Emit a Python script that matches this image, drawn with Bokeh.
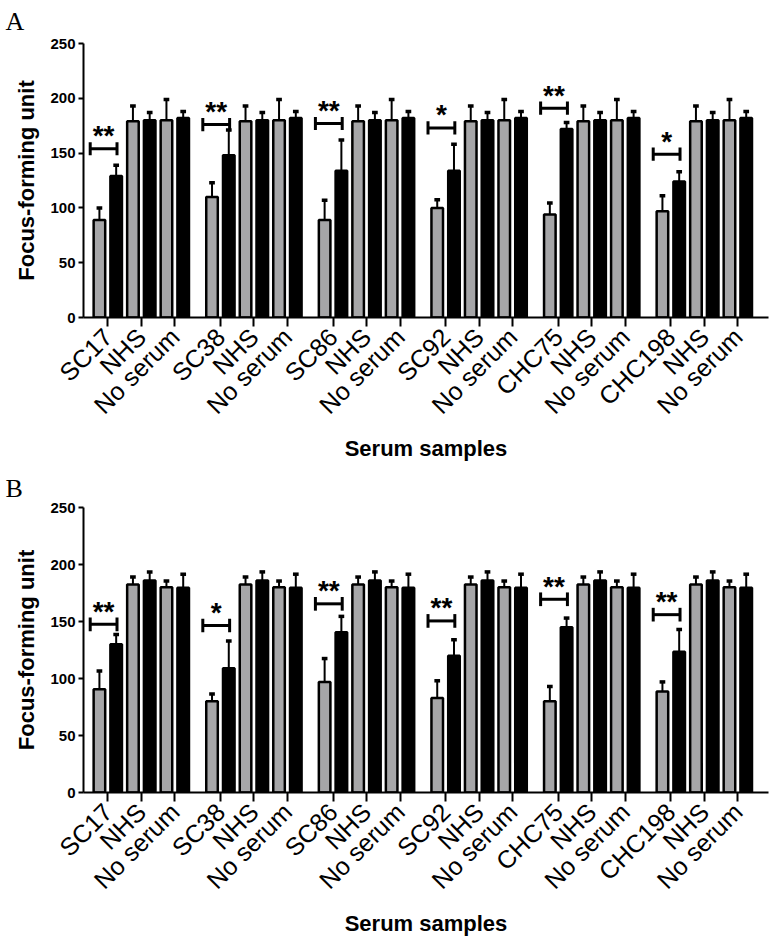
from math import pi
from bokeh.plotting import figure
from bokeh.models import Range1d, FixedTicker
from bokeh.layouts import column
from bokeh.embed import file_html
from bokeh.resources import INLINE
from bokeh.core.properties import value

# ---------------- data ----------------
groups = ["SC17", "SC38", "SC86", "SC92", "CHC75", "CHC198"]
control_labels = ["NHS", "No serum"]
y_ticks = [0, 50, 100, 150, 200, 250]

# Panel A
a_sample_gray = [89, 110, 89, 100, 94, 97]
a_sample_gray_err = [11, 13, 18, 7.5, 10.5, 14]
a_sample_black = [129, 148, 134, 134, 172, 124]
a_sample_black_err = [10, 23, 28, 24, 6, 9]
a_nhs = [179, 180]          # gray, black
a_nhs_err = [14, 7]
a_noserum = [180, 182]      # gray, black
a_noserum_err = [19, 6]
a_bracket = [154, 176, 177, 173, 191, 149]
a_stars = ["**", "**", "**", "*", "**", "*"]

# Panel B
b_sample_gray = [90.5, 80, 97, 83, 80, 88.5]
b_sample_gray_err = [16, 6.5, 20.5, 15, 13, 8.5]
b_sample_black = [130, 109, 140.5, 120, 145, 123.5]
b_sample_black_err = [8.5, 24, 14, 14, 8, 19.5]
b_nhs = [182.5, 186]
b_nhs_err = [6.5, 7.5]
b_noserum = [180, 179.5]
b_noserum_err = [5.5, 12]
b_bracket = [147.5, 146.5, 165.5, 150.5, 169.5, 156]
b_stars = ["**", "*", "**", "**", "**", "**"]

# ---------------- layout constants ----------------
SLOT = 100      # distance between neighbouring bars (x units)
GROUP = 672     # distance between groups
BAR_W = 69
GRAY = "#A6A6A8"
FONT = "Liberation Sans"


def make_panel(letter, sg, sge, sb, sbe, nhs, nhse, nos, nose, brk, stars,
               height, top_b, bottom_b, title_standoff):
    p = figure(width=774, height=height, output_backend="svg", toolbar_location=None,
               x_range=Range1d(-95, 5 * GROUP + 5 * SLOT + 133), y_range=Range1d(0, 250),
               min_border_left=83, min_border_right=6, min_border_top=top_b,
               min_border_bottom=bottom_b, outline_line_color=None)
    p.grid.visible = False

    xs_gray, tops_gray, errs_gray = [], [], []
    xs_black, tops_black, errs_black = [], [], []
    ticks, overrides = [], {}
    for g, name in enumerate(groups):
        base = g * GROUP
        vals = [(sg[g], sge[g]), (sb[g], sbe[g]), (nhs[0], nhse[0]), (nhs[1], nhse[1]),
                (nos[0], nose[0]), (nos[1], nose[1])]
        for j, (v, e) in enumerate(vals):
            x = base + j * SLOT
            if j % 2 == 0:
                xs_gray.append(x); tops_gray.append(v); errs_gray.append(e)
            else:
                xs_black.append(x); tops_black.append(v); errs_black.append(e)
        for k, lab in enumerate([name] + control_labels):
            t = base + 2 * k * SLOT + SLOT // 2
            ticks.append(t)
            overrides[t] = lab

    p.vbar(x=xs_gray, top=tops_gray, width=BAR_W, bottom=0, fill_color=GRAY,
           line_color="black", line_width=2.5)
    p.vbar(x=xs_black, top=tops_black, width=BAR_W, bottom=0, fill_color="black",
           line_color="black", line_width=2.5)

    xs = xs_gray + xs_black
    tops = tops_gray + tops_black
    errs = errs_gray + errs_black
    ends = [t + e for t, e in zip(tops, errs)]
    p.segment(x0=xs, y0=tops, x1=xs, y1=ends, line_color="black", line_width=2)
    p.segment(x0=[x - 17 for x in xs], y0=ends, x1=[x + 17 for x in xs], y1=ends,
              line_color="black", line_width=3.5)

    # significance brackets
    bx0 = [g * GROUP - 55 for g in range(len(groups))]
    bx1 = [g * GROUP + SLOT + 5 for g in range(len(groups))]
    p.segment(x0=bx0, y0=brk, x1=bx1, y1=brk, line_color="black", line_width=3)
    p.segment(x0=bx0, y0=[b - 6 for b in brk], x1=bx0, y1=[b + 6 for b in brk],
              line_color="black", line_width=3)
    p.segment(x0=bx1, y0=[b - 6 for b in brk], x1=bx1, y1=[b + 6 for b in brk],
              line_color="black", line_width=3)
    p.text(x=[(a + b) / 2 for a, b in zip(bx0, bx1)], y=brk, text=stars,
           text_font=value(FONT), text_font_size="28px", text_font_style="bold",
           text_align="center", text_baseline="alphabetic", text_color="black", y_offset=-13)

    # axes
    for ax in (p.xaxis, p.yaxis):
        ax.axis_line_width = 2
        ax.axis_line_color = "black"
        ax.major_tick_line_width = 2
        ax.major_tick_line_color = "black"
        ax.major_tick_in = 0
        ax.minor_tick_line_color = None
        ax.major_label_text_color = "black"
        ax.axis_label_text_color = "black"
        ax.axis_label_text_font = FONT
        ax.major_label_text_font = FONT

    p.yaxis.ticker = FixedTicker(ticks=y_ticks)
    p.yaxis.major_tick_out = 5
    p.yaxis.major_label_text_font_style = "bold"
    p.yaxis.major_label_text_font_size = "15px"
    p.yaxis.major_label_standoff = 3
    p.yaxis.axis_label = "Focus-forming unit"
    p.yaxis.axis_label_text_font_style = "bold"
    p.yaxis.axis_label_text_font_size = "22px"
    p.yaxis.axis_label_standoff = 8

    p.xaxis.ticker = FixedTicker(ticks=ticks)
    p.xaxis.major_label_overrides = overrides
    p.xaxis.major_label_orientation = pi / 4
    p.xaxis.major_tick_out = 9
    p.xaxis.major_label_text_font_size = "25px"
    p.xaxis.major_label_text_font_style = "normal"
    p.xaxis.major_label_standoff = 6
    p.xaxis.axis_label = "Serum samples"
    p.xaxis.axis_label_text_font_style = "bold"
    p.xaxis.axis_label_text_font_size = "22px"
    p.xaxis.axis_label_standoff = 4

    # panel letter
    p.title.text = letter
    p.title.align = "left"
    p.title.offset = -78
    p.title.vertical_align = "top"
    p.title.text_font = "Liberation Serif"
    p.title.text_font_style = "normal"
    p.title.text_font_size = "26px"
    p.title.text_color = "black"
    p.title.standoff = title_standoff
    return p


pA = make_panel("A", a_sample_gray, a_sample_gray_err, a_sample_black, a_sample_black_err,
                a_nhs, a_nhs_err, a_noserum, a_noserum_err, a_bracket, a_stars,
                height=470, top_b=42, bottom_b=153, title_standoff=12)
pB = make_panel("B", b_sample_gray, b_sample_gray_err, b_sample_black, b_sample_black_err,
                b_nhs, b_nhs_err, b_noserum, b_noserum_err, b_bracket, b_stars,
                height=472, top_b=36, bottom_b=150, title_standoff=6)

layout = column(pA, pB, spacing=0)
open("out.html", "w").write(file_html(layout, INLINE))
